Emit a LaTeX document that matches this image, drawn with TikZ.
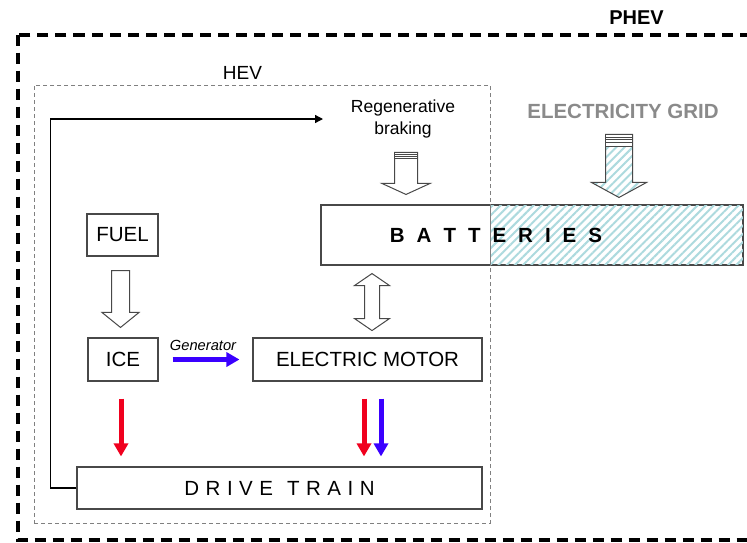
\documentclass[tikz,border=0pt]{standalone}
\usepackage{fontspec}
\setmainfont{Liberation Sans}
\usetikzlibrary{arrows.meta,calc,patterns.meta}
\definecolor{BoxGray}{HTML}{484848}
\definecolor{DashGray}{HTML}{808080}
\definecolor{GridGray}{HTML}{8A8A8A}
\definecolor{GridTeal}{HTML}{ADDADE}
\definecolor{PowerRed}{HTML}{F0001E}
\definecolor{GenBlue}{HTML}{3A00FF}

\tikzset{
  unitbox/.style={draw=BoxGray, line width=1.1pt, fill=white, inner sep=0pt,
    font=\fontsize{20.5}{24}\selectfont},
  hollow/.style={draw=BoxGray, line width=1pt, fill=white, line join=miter},
  flow/.style={line width=5pt, -{Triangle[length=13pt,width=14pt]}},
  hatched/.style={pattern={Lines[angle=45,distance=5.8pt,line width=2pt]},
    pattern color=GridTeal},
}
\newcommand{\hollowdown}[6][]{%
  \draw[hollow,#1] ($(#2)+(-#4,0)$) -- ($(#3)+(-#4,-#6)$) -- ($(#3)+(-#5,-#6)$) -- (#3)
    -- ($(#3)+(#5,-#6)$) -- ($(#3)+(#4,-#6)$) -- ($(#2)+(#4,0)$) -- cycle;}
\newcommand{\bgap}{\hspace{12pt}}
\newcommand{\dgap}{\hspace{6.5pt}}

\begin{document}
\begin{tikzpicture}[x=1pt, y=-1pt]
  \useasboundingbox (0,0) rectangle (747,542);
  \clip (0,0) rectangle (747,542);

  \draw[line width=4pt, dash pattern=on 11pt off 7pt] (17.5,34.5) rectangle (770,539.5);
  \node[font=\fontsize{20}{24}\selectfont\bfseries] (phev) at (636.5,18) {PHEV};

  \node[draw=DashGray, line width=1pt, dash pattern=on 4pt off 3pt, inner sep=0pt,
        minimum width=456pt, minimum height=438pt] (hev) at (262,304) {};
  \node[font=\fontsize{19}{22}\selectfont] (hevlabel) at (242.5,73) {HEV};

  \node[unitbox, minimum width=71pt, minimum height=42pt] (fuel) at (122.5,235) {FUEL};
  \node[unitbox, minimum width=70pt, minimum height=43pt] (ice) at (123,359.5) {ICE};
  \node[unitbox, minimum width=229pt, minimum height=43pt] (motor) at (367.5,359.5) {ELECTRIC MOTOR};
  \node[unitbox, minimum width=405pt, minimum height=42pt] (drive) at (279.5,488)
    {D\dgap R\dgap I\dgap V\dgap E\hspace{14pt}T\dgap R\dgap A\dgap I\dgap N};

  \node[unitbox, minimum width=422pt, minimum height=60pt] (batt) at (532,235) {};
  \fill[hatched] (hev.east |- batt.north) rectangle (batt.south east);
  \draw[BoxGray, line width=1.1pt] (batt.north west) rectangle (batt.south east);
  \draw[DashGray, line width=1.1pt] (hev.east |- batt.north) -- (hev.east |- batt.south);
  \node[font=\fontsize{20.5}{24}\selectfont\bfseries] (battlabel) at ($(batt.center)+(-36,0)$)
    {B\bgap A\bgap T\bgap T\bgap E\bgap R\bgap I\bgap E\bgap S};

  \node[align=center, font=\fontsize{17.5}{22}\selectfont] (regen) at (403,119) {Regenerative\\braking};
  \node[font=\fontsize{20.5}{24}\selectfont\bfseries, text=GridGray] (grid) at (623,111) {ELECTRICITY GRID};

  \coordinate (regentip) at ($(regen |- batt.north)+(3,-10)$);
  \coordinate (regentop) at ($(regentip)+(0,-42)$);
  \hollowdown{regentop}{regentip}{11.5}{24}{11}
  \draw[hollow] ($(regentop)+(-11.5,0)$) rectangle ($(regentop)+(11.5,6)$);
  \draw[BoxGray, line width=0.8pt] ($(regentop)+(-11.5,2)$) -- ++(23,0)
    ($(regentop)+(-11.5,4)$) -- ++(23,0);

  \coordinate (gridtip) at ($(grid |- batt.north)+(-4,-7)$);
  \coordinate (gridtop) at ($(gridtip)+(0,-63)$);
  \hollowdown[preaction={fill=white}, hatched]{gridtop}{gridtip}{13.5}{27.5}{15}
  \draw[hollow] ($(gridtop)+(-13.5,0)$) rectangle ($(gridtop)+(13.5,12)$);
  \draw[BoxGray, line width=0.8pt] ($(gridtop)+(-13.5,2.5)$) -- ++(27,0)
    ($(gridtop)+(-13.5,5)$) -- ++(27,0) ($(gridtop)+(-13.5,8)$) -- ++(27,0);

  \coordinate (fueltop) at ($(fuel.south)+(-2,14)$);
  \coordinate (icetip) at ($(ice.north)+(-2.5,-10)$);
  \hollowdown{fueltop}{icetip}{9}{18.5}{15}

  \coordinate (dbtop) at ($(batt.south -| motor.north)+(4.5,8)$);
  \draw[hollow] (dbtop) -- ++(17.5,12) -- ++(-10,0) -- ++(0,33) -- ++(10,0) -- ++(-17.5,12)
    -- ++(-17.5,-12) -- ++(10,0) -- ++(0,-33) -- ++(-10,0) -- cycle;

  \draw[flow, GenBlue] ($(ice.east)+(14,0)$) -- ($(motor.west)+(-13,0)$)
    node[midway, yshift=14pt, xshift=-3pt, text=black, font=\fontsize{14.7}{16}\selectfont\itshape] (genlabel) {Generator};

  \draw[flow, PowerRed] ($(ice.south)+(-2,17)$) -- ($(ice.south |- drive.north)+(-2,-10)$);
  \draw[flow, PowerRed] ($(motor.south)+(-3.5,17)$) -- ($(motor.south |- drive.north)+(-3.5,-10)$);
  \draw[flow, GenBlue] ($(motor.south)+(13.5,17)$) -- ($(motor.south |- drive.north)+(13.5,-10)$);

  \coordinate (fbtip) at (323,119);
  \draw[line width=1.3pt, -{Triangle[length=8pt,width=8pt]}] (drive.west) -- ++(-26,0) |- (fbtip);
\end{tikzpicture}
\end{document}
